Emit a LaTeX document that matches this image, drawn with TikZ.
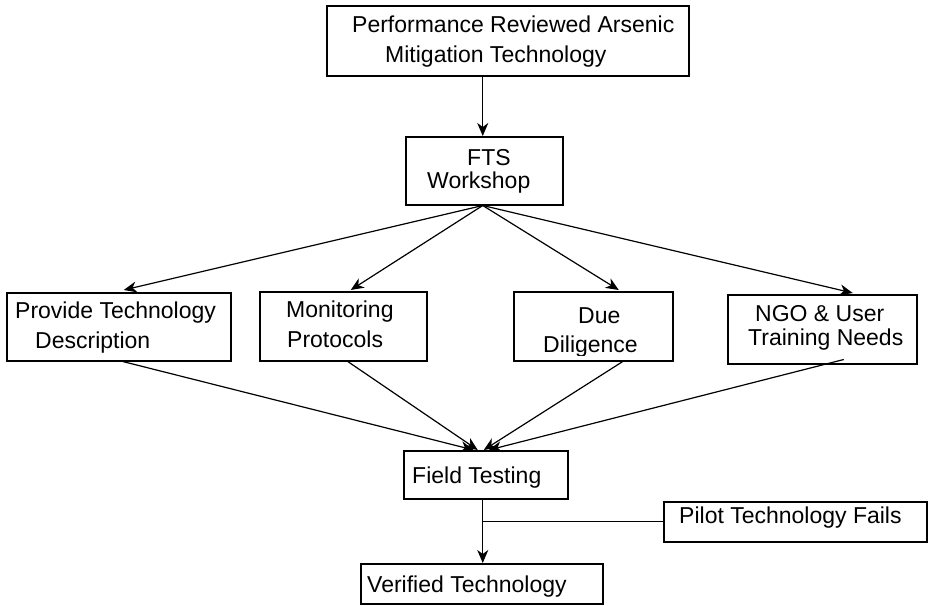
\documentclass[tikz,border=0pt]{standalone}
\usepackage{fontspec}
\setmainfont{Liberation Sans}
\usetikzlibrary{arrows.meta}
\begin{document}
\begin{tikzpicture}[x=1pt,y=-1pt,
  box/.style={draw=black,line width=1.5pt,inner sep=0pt,anchor=north west,fill=white},
  txt/.style={inner sep=0pt,anchor=base west,font=\fontsize{23}{28}\selectfont},
  arr/.style={line width=1.2pt,-{Stealth[length=13pt,width=11pt,inset=4pt]}},
  ln/.style={line width=1.2pt}]
\useasboundingbox (0,0) rectangle (928,605);
\fill[white] (0,0) rectangle (928,605);
% boxes
\node[box,minimum width=362pt,minimum height=70pt] (top) at (326,5) {};
\node[box,minimum width=157pt,minimum height=68pt] (fts) at (405,136) {};
\node[box,minimum width=224pt,minimum height=68pt] (prov) at (6,292) {};
\node[box,minimum width=167pt,minimum height=69pt] (mon) at (259,291) {};
\node[box,minimum width=159pt,minimum height=69pt] (due) at (513,291) {};
\node[box,minimum width=189pt,minimum height=69pt] (ngo) at (727,294) {};
\node[box,minimum width=164pt,minimum height=48pt] (field) at (403,450) {};
\node[box,minimum width=263pt,minimum height=40pt] (pilot) at (663,501) {};
\node[box,minimum width=242pt,minimum height=40pt] (ver) at (360,563) {};
% texts
\node[txt] (top1) at (352,32) {Performance Reviewed Arsenic};
\node[txt] (top2) at (385,62) {Mitigation Technology};
\node[txt] (fts1) at (467,165) {FTS};
\node[txt] (fts2) at (427,188) {Workshop};
\node[txt] (prov1) at (15,318) {Provide Technology};
\node[txt] (prov2) at (35,348) {Description};
\node[txt] (mon1) at (286,317) {Monitoring};
\node[txt] (mon2) at (287,347) {Protocols};
\node[txt] (due1) at (578,323) {Due};
\begin{scope}
\clip (513,291) rectangle (672,355.5);
\node[txt] (due2) at (543,352) {Diligence};
\end{scope}
\node[txt] (ngo1) at (755,321) {NGO \& User};
\node[txt] (ngo2) at (748,345) {Training Needs};
\node[txt] (field1) at (412,483) {Field Testing};
\node[txt] (pilot1) at (679,523) {Pilot Technology Fails};
\node[txt] (ver1) at (367,592) {Verified Technology};
% connectors
\draw[arr] ([xshift=-1.5pt]fts.north |- top.south) -- ([xshift=-1.5pt]fts.north);
\draw[arr] ([xshift=-1.5pt]fts.south) -- ([xshift=5pt,yshift=2pt]prov.north);
\draw[arr] ([xshift=-1.5pt]fts.south) -- ([xshift=7.5pt,yshift=1pt]mon.north);
\draw[arr] ([xshift=-1.5pt]fts.south) -- ([xshift=25.5pt,yshift=1pt]due.north);
\draw[arr] ([xshift=-1.5pt]fts.south) -- ([xshift=30.5pt,yshift=1pt]ngo.north);
\draw[arr] ([xshift=4pt]prov.south) -- ([xshift=-12pt]field.north);
\draw[arr] ([xshift=4.5pt]mon.south) -- ([xshift=-8pt]field.north);
\draw[arr] ([xshift=29.5pt]due.south) -- ([xshift=-2pt]field.north);
\draw[arr] ([xshift=21.5pt,yshift=5pt]ngo.south) -- ([xshift=3pt]field.north);
\draw[arr] ([xshift=1pt]ver.north |- field.south) -- ([xshift=1pt]ver.north);
\draw[ln] ([xshift=1pt]ver.north |- pilot.west) -- (pilot.west);
\end{tikzpicture}
\end{document}
